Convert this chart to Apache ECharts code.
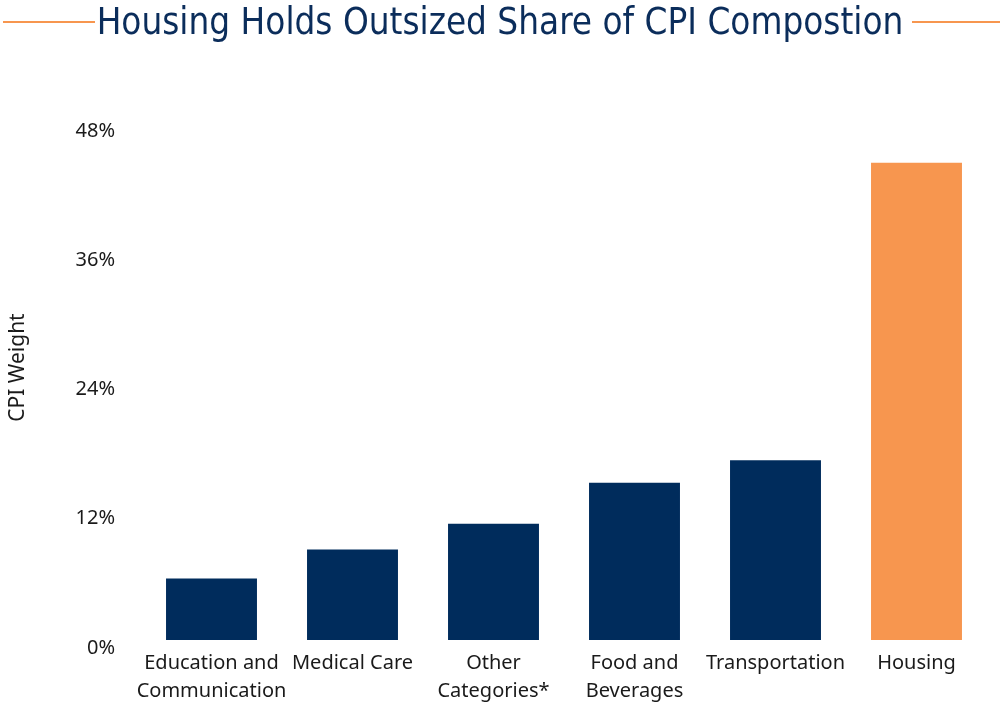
<!DOCTYPE html>
<html><head><meta charset="utf-8">
<script src="https://cdn.jsdelivr.net/npm/echarts@6/dist/echarts.min.js"></script>
<style>html,body{margin:0;padding:0;background:#fff}#c{width:1000px;height:706px}</style>
</head><body><div id="c"></div>
<script>
const categories = ['Education and\nCommunication','Medical Care','Other\nCategories*','Food and\nBeverages','Transportation','Housing'];
const values = [5.7, 8.4, 10.8, 14.6, 16.7, 44.3];
const yTicks = [0, 12, 24, 36, 48];
const barColors = ['#002c5c','#002c5c','#002c5c','#002c5c','#002c5c','#f7964f'];

const chart = echarts.init(document.getElementById('c'));
chart.setOption({
  backgroundColor: '#fff',
  animation: false,
  title: {
    text: 'Housing Holds Outsized Share of CPI Compostion',
    left: 'center', top: 1,
    textStyle: {fontFamily: "'DejaVu Sans Condensed', 'Liberation Sans Narrow', Roboto, sans-serif", fontSize: 36.5, fontWeight: 'normal', color: '#0b2d5b'}
  },
  graphic: [
    {type: 'line', shape: {x1: 3, y1: 22, x2: 95, y2: 22}, style: {stroke: '#f7964f', lineWidth: 2}},
    {type: 'line', shape: {x1: 912, y1: 22, x2: 1000, y2: 22}, style: {stroke: '#f7964f', lineWidth: 2}}
  ],
  grid: {left: 141, right: 13, top: 123, bottom: 66},
  xAxis: {
    type: 'category', data: categories,
    axisLine: {show: false}, axisTick: {show: false},
    axisLabel: {interval: 0, fontFamily: 'Noto Sans', fontSize: 20, color: '#1a1a1a', lineHeight: 28, margin: 9}
  },
  yAxis: {
    type: 'value', min: yTicks[0], max: yTicks[yTicks.length-1], interval: 12,
    name: 'CPI Weight', nameLocation: 'middle', nameGap: 112,
    nameTextStyle: {fontFamily: 'Noto Sans', fontSize: 21, color: '#1a1a1a', padding: [0,0,0,28]},
    axisLine: {show: false}, axisTick: {show: false}, splitLine: {show: false},
    axisLabel: {formatter: '{value}%', fontFamily: 'Noto Sans', fontSize: 20, color: '#1a1a1a', margin: 26, verticalAlign: 'top', lineHeight: 16}
  },
  series: [{
    type: 'bar', data: values.map((v,i)=>({value: v, itemStyle: {color: barColors[i]}})),
    barWidth: '64.5%'
  }]
});
</script></body></html>
